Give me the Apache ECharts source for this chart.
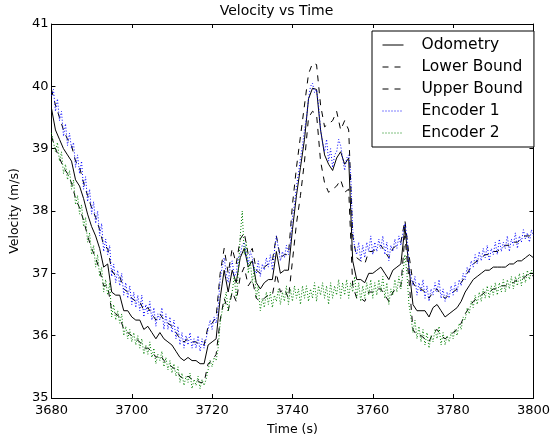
<!DOCTYPE html>
<html>
<head>
<meta charset="utf-8">
<script src="https://cdn.jsdelivr.net/npm/echarts@6/dist/echarts.min.js"></script>
<style>html,body{margin:0;padding:0;background:#fff}#c{width:553px;height:441px}</style>
</head>
<body>
<div id="c"></div>
<script>
// Odometry, lower and upper bound: one sample per second from 3680 s
const boundStart = 3680, boundStep = 1;
const odometry = [39.65,39.3,39.15,39.0,38.9,38.8,38.5,38.4,38.2,37.95,
 37.75,37.6,37.4,37.1,37.15,36.7,36.65,36.65,36.4,36.4,
 36.3,36.25,36.25,36.1,36.15,36.05,35.95,36.05,35.95,35.9,
 35.85,35.75,35.65,35.6,35.65,35.6,35.6,35.55,35.55,35.85,
 35.9,35.95,36.6,37.05,36.7,37.05,36.85,37.25,37.4,37.1,
 37.2,36.85,36.75,36.85,36.9,36.9,37.35,37.0,37.05,37.05,
 37.7,38.25,38.7,39.15,39.8,39.97,39.95,39.3,38.9,38.75,
 38.65,38.85,38.95,38.75,38.85,37.2,36.9,36.9,36.85,37.0,
 37.0,37.05,37.1,37.0,36.9,37.05,37.1,37.15,37.75,37.1,
 36.5,36.4,36.4,36.4,36.3,36.45,36.5,36.4,36.3,36.35,
 36.4,36.45,36.55,36.7,36.8,36.9,36.95,37.0,37.05,37.05,
 37.1,37.1,37.1,37.1,37.15,37.15,37.2,37.2,37.25,37.3,
 37.25];
const upperBound = [39.95,39.7,39.5,39.3,39.15,39.05,38.8,38.7,38.45,38.25,
 38.05,37.9,37.7,37.45,37.4,37.05,36.95,36.95,36.75,36.7,
 36.6,36.55,36.55,36.4,36.45,36.35,36.25,36.35,36.25,36.2,
 36.15,36.05,35.95,35.9,35.95,35.9,35.9,35.85,35.85,36.15,
 36.2,36.3,37.0,37.4,37.0,37.4,37.15,37.55,37.65,37.3,
 37.4,37.05,37.0,37.1,37.15,37.2,37.6,37.25,37.3,37.3,
 38.1,38.7,39.2,39.7,40.2,40.37,40.35,39.7,39.35,39.4,
 39.45,39.6,39.3,39.45,39.3,37.6,37.25,37.2,37.15,37.35,
 37.35,37.4,37.45,37.35,37.25,37.4,37.45,37.5,37.85,37.3,
 36.85,36.75,36.75,36.7,36.6,36.7,36.75,36.65,36.6,36.65,
 36.7,36.75,36.85,36.95,37.05,37.15,37.2,37.25,37.3,37.3,
 37.35,37.35,37.4,37.45,37.45,37.5,37.5,37.55,37.6,37.6,
 37.6];
const lowerBound = [39.2,39.0,38.85,38.7,38.6,38.45,38.2,38.05,37.85,37.6,
 37.4,37.25,37.05,36.8,36.8,36.4,36.35,36.3,36.1,36.05,
 36.0,35.95,35.9,35.8,35.8,35.75,35.65,35.7,35.6,35.55,
 35.5,35.45,35.35,35.3,35.35,35.3,35.3,35.25,35.25,35.55,
 35.6,35.7,36.25,36.6,36.4,36.7,36.55,36.95,37.1,36.8,
 36.9,36.6,36.55,36.6,36.65,36.65,37.0,36.7,36.75,36.6,
 37.2,37.8,38.25,38.8,39.5,39.6,39.55,38.8,38.45,38.3,
 38.35,38.4,38.5,38.3,38.35,36.8,36.6,36.6,36.55,36.7,
 36.7,36.75,36.75,36.65,36.55,36.7,36.75,36.8,37.6,36.9,
 36.1,36.0,36.0,35.95,35.9,36.05,36.1,36.0,35.95,36.0,
 36.05,36.1,36.2,36.35,36.45,36.55,36.6,36.65,36.7,36.7,
 36.75,36.75,36.8,36.8,36.85,36.85,36.9,36.9,36.95,37.0,
 36.95];
// Encoders: one sample every 0.5 s from 3680 s
const encStart = 3680, encStep = 0.5;
const encoder1 = [39.85,39.95,39.6,39.8,39.45,39.6,39.2,39.4,39.05,39.25,39.0,39.1,38.7,38.9,38.6,38.8,38.35,38.55,38.15,38.35,
 37.95,38.15,37.8,38.0,37.6,37.8,37.35,37.55,37.3,37.45,36.95,37.15,36.85,37.05,36.8,37.0,36.65,36.85,36.6,36.8,
 36.5,36.7,36.45,36.65,36.4,36.65,36.3,36.5,36.35,36.55,36.25,36.45,36.15,36.35,36.25,36.45,36.1,36.35,36.1,36.3,
 36.05,36.25,35.95,36.15,35.85,36.05,35.8,36.0,35.85,36.05,35.8,35.95,35.8,36.0,35.75,35.95,35.8,35.95,36.1,36.25,
 36.1,36.3,36.2,36.45,36.9,37.1,37.25,37.0,36.85,37.1,37.2,36.95,37.0,37.25,37.3,37.45,37.5,37.3,37.15,37.35,
 37.25,37.05,37.0,37.2,36.95,37.15,37.05,37.25,37.1,37.3,37.05,37.35,37.6,37.4,37.2,37.35,37.25,37.45,37.3,37.5,
 37.9,38.1,38.4,38.6,38.85,39.05,39.3,39.5,39.8,40.0,40.05,39.9,39.95,39.7,39.3,39.1,38.95,39.15,38.8,39.0,
 38.7,38.9,38.95,39.15,39.05,38.85,38.65,38.85,38.9,38.6,37.7,37.4,37.3,37.5,37.2,37.45,37.25,37.5,37.35,37.6,
 37.3,37.5,37.35,37.55,37.4,37.6,37.3,37.5,37.2,37.45,37.35,37.55,37.4,37.6,37.45,37.65,37.8,37.6,37.1,36.95,
 36.8,36.95,36.65,36.85,36.7,36.9,36.6,36.8,36.55,36.75,36.65,36.85,36.7,36.9,36.6,36.75,36.55,36.7,36.6,36.8,
 36.65,36.85,36.7,36.9,36.8,37.0,36.9,37.1,37.0,37.2,37.1,37.3,37.15,37.35,37.2,37.4,37.25,37.45,37.2,37.4,
 37.3,37.5,37.3,37.55,37.35,37.5,37.4,37.6,37.35,37.55,37.45,37.65,37.4,37.6,37.5,37.7,37.55,37.65,37.5,37.7,
 37.6];
const encoder2 = [39.25,39.1,38.95,39.1,38.8,38.95,38.6,38.75,38.5,38.65,38.35,38.5,38.1,38.25,37.95,38.1,37.75,37.9,37.5,37.65,
 37.3,37.45,37.1,37.3,36.95,37.1,36.7,36.9,36.65,36.85,36.3,36.5,36.25,36.4,36.2,36.35,36.0,36.15,35.95,36.1,
 35.9,36.05,35.85,36.0,35.8,35.95,35.7,35.85,35.7,35.9,35.65,35.8,35.55,35.7,35.6,35.75,35.5,35.65,35.45,35.6,
 35.4,35.55,35.35,35.5,35.25,35.4,35.2,35.35,35.25,35.4,35.15,35.3,35.2,35.35,35.15,35.3,35.2,35.3,35.45,35.6,
 35.5,35.65,35.6,35.8,36.2,36.4,36.5,36.7,36.4,36.6,36.7,36.95,36.6,37.0,37.6,38.0,37.3,37.5,37.0,37.2,
 36.85,37.1,36.6,36.8,36.4,36.6,36.45,36.7,36.5,36.7,36.45,36.65,36.55,36.75,36.5,36.7,36.55,36.8,36.5,36.75,
 36.55,36.8,36.6,36.75,36.5,36.8,36.6,36.8,36.55,36.75,36.6,36.85,36.55,36.8,36.65,36.85,36.6,36.8,36.5,36.85,
 36.6,36.8,36.65,36.9,36.6,36.85,36.65,36.9,36.6,36.85,36.7,36.95,36.6,36.85,36.55,36.8,36.6,36.85,36.65,36.9,
 36.6,36.85,36.65,36.9,36.7,36.95,36.6,36.85,36.5,36.75,36.65,36.9,36.7,36.95,36.75,37.0,37.3,37.0,36.5,36.3,
 36.05,36.25,35.95,36.15,35.9,36.1,35.85,36.05,35.8,36.0,35.9,36.1,35.95,36.15,35.85,36.05,35.85,36.0,35.9,36.05,
 35.95,36.1,36.0,36.2,36.1,36.3,36.25,36.45,36.35,36.55,36.45,36.65,36.5,36.7,36.55,36.75,36.6,36.8,36.6,36.8,
 36.65,36.85,36.65,36.85,36.7,36.9,36.7,36.9,36.75,36.95,36.75,36.95,36.8,37.0,36.8,37.0,36.85,37.05,36.9,37.05,
 37.0];
const seriesNames = ['Odometry','Lower Bound','Upper Bound','Encoder 1','Encoder 2'];
const xTicks = [3680,3700,3720,3740,3760,3780,3800];
const yTicks = [35,36,37,38,39,40,41];

function pairs(start, step, vals){ return vals.map((v,i)=>[start+i*step, v]); }

const FONT = 'DejaVu Sans';
const chart = echarts.init(document.getElementById('c'), null, {renderer:'canvas'});
const axisCommon = {
  axisLine:{show:true, onZero:false, lineStyle:{color:'#000', width:1}},
  axisTick:{show:true, inside:true, length:4, lineStyle:{color:'#000'}},
  splitLine:{show:false}
};
function mk(name, data, color, type){
  return {name, type:'line', data, showSymbol:false, symbol:'none', animation:false,
    lineStyle:{color, width:1, type}, itemStyle:{color, opacity:0}, xAxisIndex:0, yAxisIndex:0};
}
chart.setOption({
  animation:false,
  backgroundColor:'#fff',
  title:{text:'Velocity vs Time', left:'center', top:4, padding:0,
    textStyle:{fontFamily:FONT, fontSize:14, fontWeight:'normal', color:'#000'}},
  grid:{left:49, right:18, top:24, bottom:40, containLabel:false},
  legend:{orient:'vertical', left:372, top:31, padding:[6,11,6,10], itemGap:6,
    itemWidth:21, itemHeight:16, borderColor:'#000', borderWidth:1, borderRadius:0,
    backgroundColor:'#fff', data:seriesNames,
    itemStyle:{opacity:0}, lineStyle:{width:1},
    textStyle:{fontFamily:FONT, fontSize:15.5, lineHeight:16, color:'#000', padding:[0,0,0,13]}},
  xAxis:[
    Object.assign({type:'value', min:xTicks[0], max:xTicks[xTicks.length-1], interval:20, position:'bottom',
      name:'Time (s)', nameLocation:'middle', nameGap:25,
      nameTextStyle:{fontFamily:FONT, fontSize:12.5, color:'#000'},
      axisLabel:{fontFamily:FONT, fontSize:13, color:'#000', margin:6, formatter:v=>String(v)}}, axisCommon),
    Object.assign({type:'value', min:xTicks[0], max:xTicks[xTicks.length-1], interval:20, position:'top',
      axisLabel:{show:false}}, axisCommon)
  ],
  yAxis:[
    Object.assign({type:'value', min:yTicks[0], max:yTicks[yTicks.length-1], interval:1, position:'left',
      name:'Velocity (m/s)', nameLocation:'middle', nameGap:21, nameRotate:90,
      nameTextStyle:{fontFamily:FONT, fontSize:12.5, color:'#000'},
      axisLabel:{fontFamily:FONT, fontSize:13, color:'#000', margin:3, formatter:v=>String(v)}}, axisCommon),
    Object.assign({type:'value', min:yTicks[0], max:yTicks[yTicks.length-1], interval:1, position:'right',
      axisLabel:{show:false}}, axisCommon)
  ],
  series:[
    mk(seriesNames[0], pairs(boundStart,boundStep,odometry), '#000', 'solid'),
    mk(seriesNames[1], pairs(boundStart,boundStep,lowerBound), '#000', [6,6]),
    mk(seriesNames[2], pairs(boundStart,boundStep,upperBound), '#000', [6,6]),
    mk(seriesNames[3], pairs(encStart,encStep,encoder1), '#0000ff', [1,2]),
    mk(seriesNames[4], pairs(encStart,encStep,encoder2), '#008000', [1,2])
  ]
});
</script>
</body>
</html>
